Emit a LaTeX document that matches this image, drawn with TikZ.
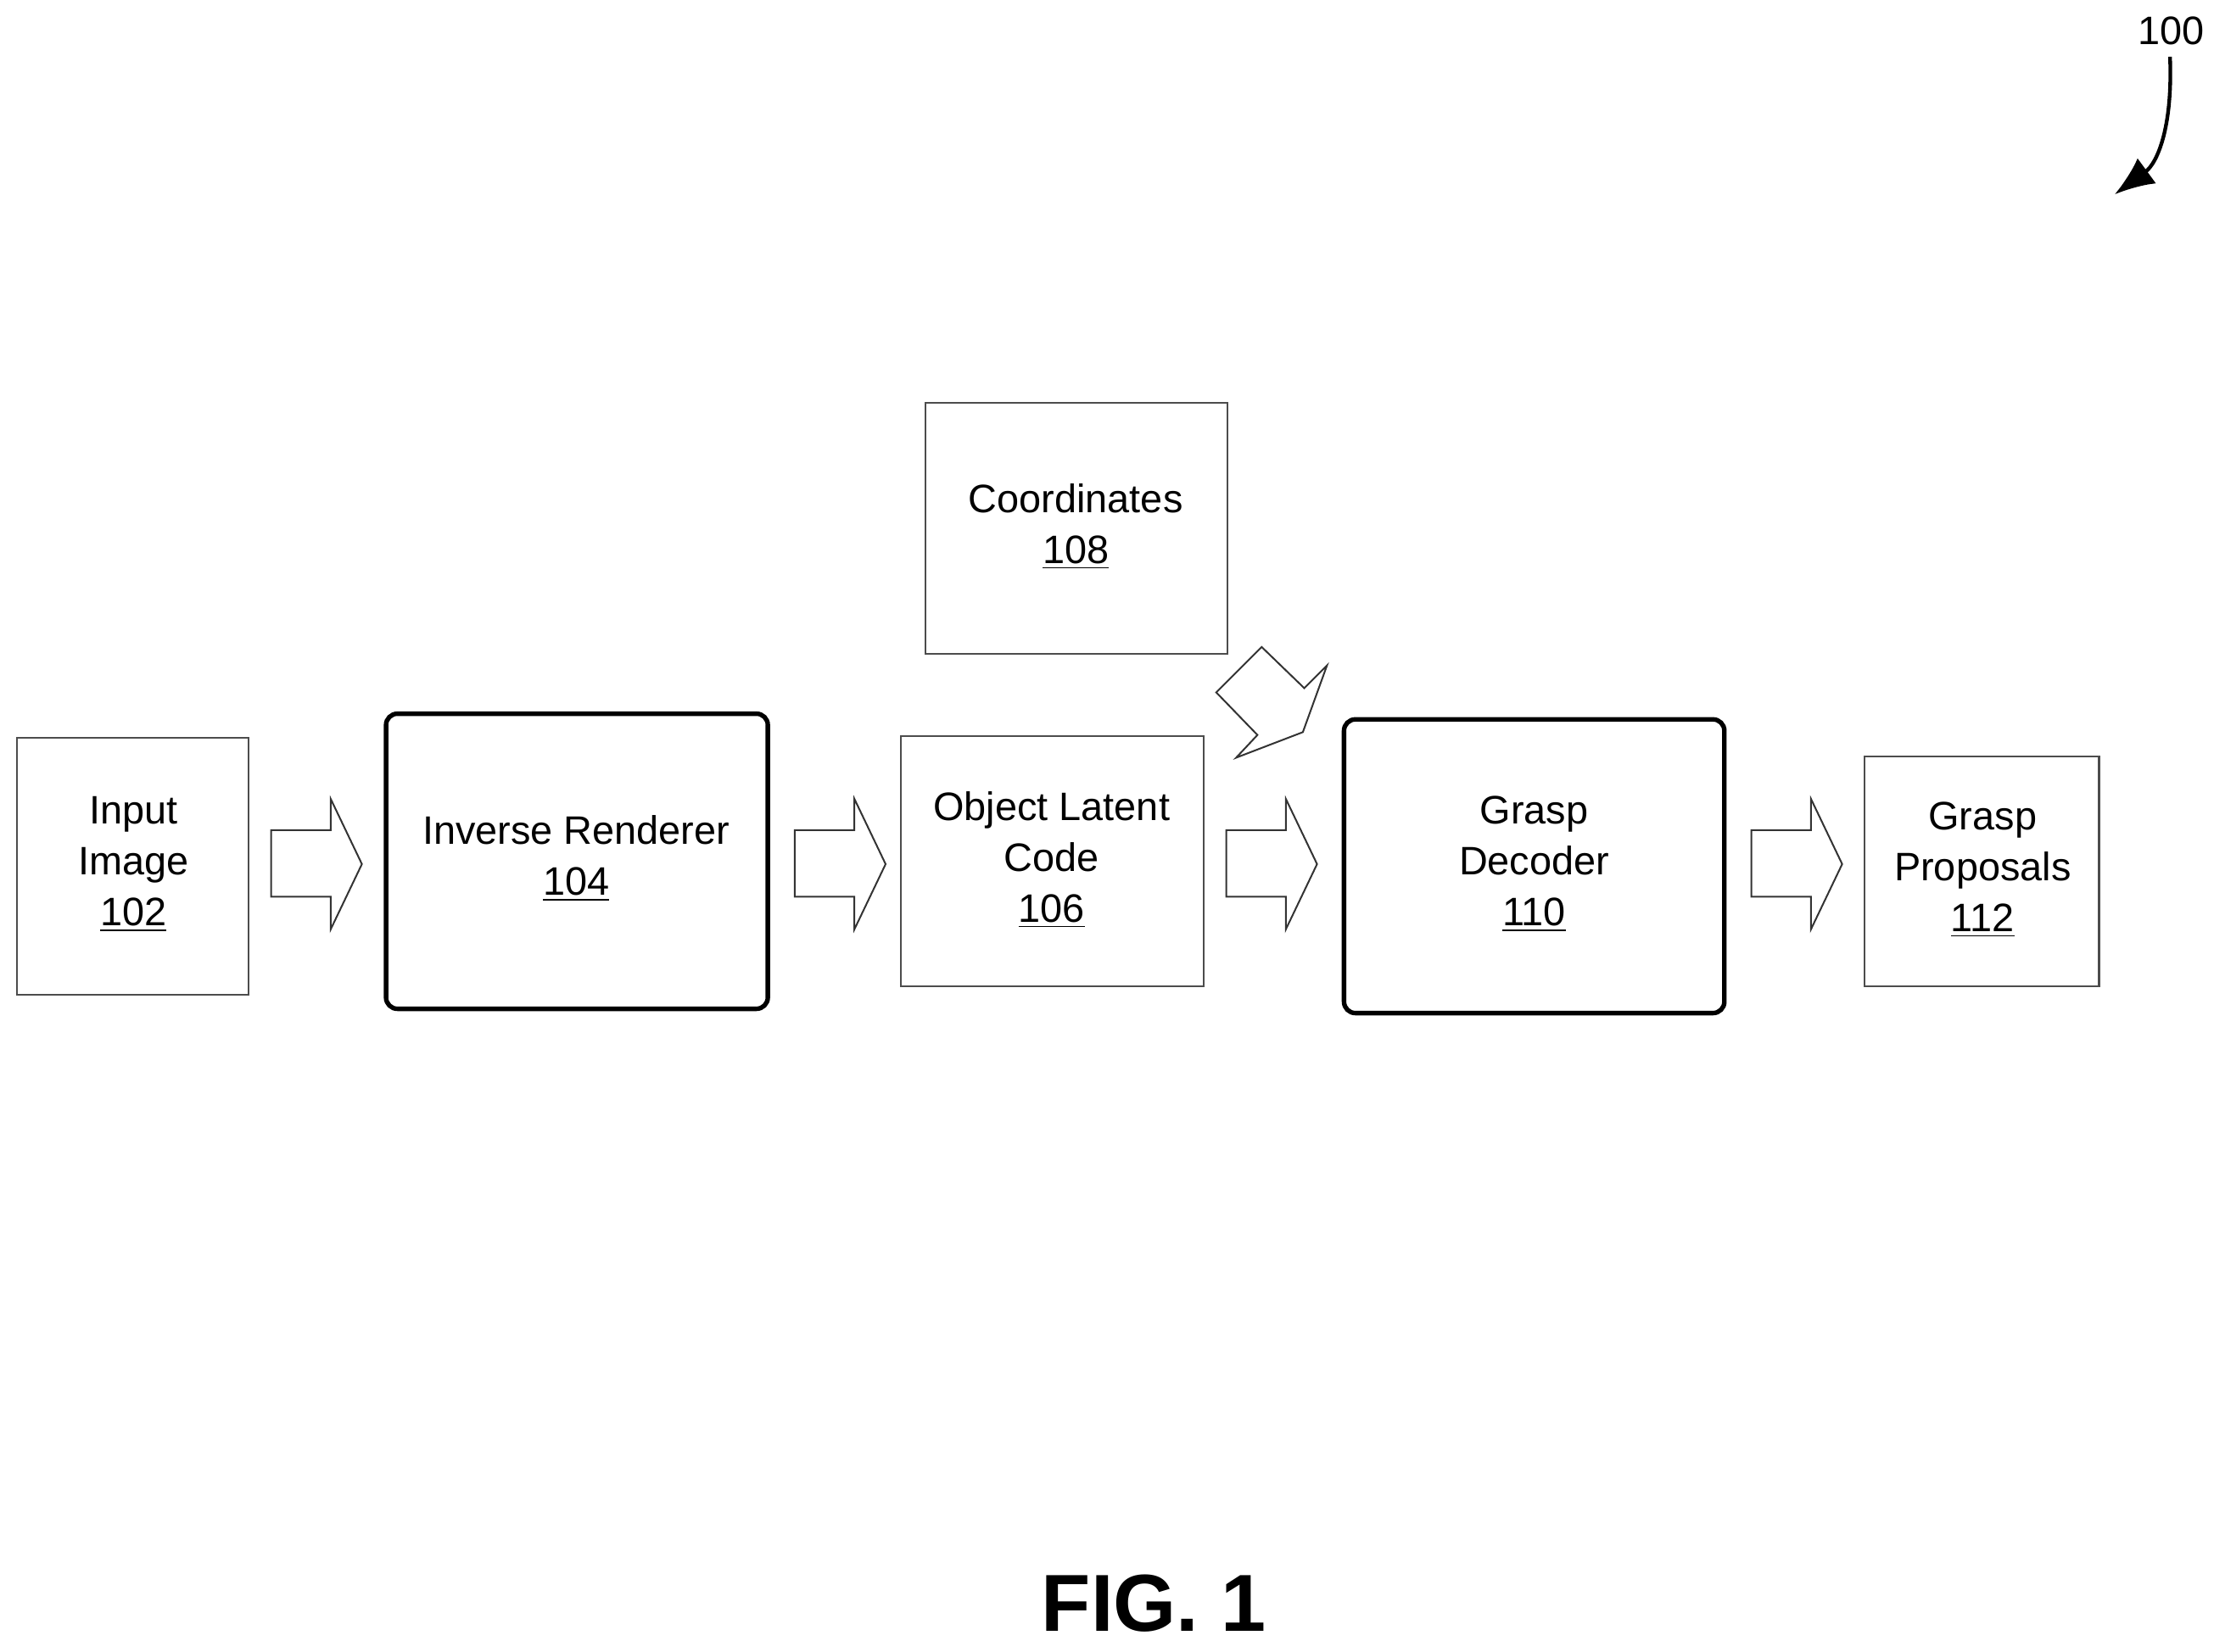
\documentclass[tikz,border=0pt]{standalone}
\usepackage{fontspec}
\setmainfont{Liberation Sans}
\usetikzlibrary{arrows.meta}
\begin{document}
\begin{tikzpicture}[x=0.5pt,y=-0.5pt,
  box/.style={draw,line width=0.6pt,black!70},
  rbox/.style={draw,line width=1.6pt,rounded corners=4pt},
  txt/.style={font=\fontsize{14}{18}\selectfont,align=center},
  blk/.style={draw,line width=0.6pt,black!80}]
\useasboundingbox (0,0) rectangle (1560,1164);
\newcommand{\barrow}[1]{\draw[blk] (#1,585)--(#1+42,585)--(#1+42,563)--(#1+64,609)--(#1+42,655)--(#1+42,632)--(#1,632)--cycle;}
\draw[box] (12,520) rectangle (175,701);
\node[txt] (in) at (94,609) {Input\\Image\\\underline{102}};
\draw[rbox] (272,503) rectangle (541,711);
\node[txt] (ir) at (406,605) {Inverse Renderer\\\underline{104}};
\draw[box] (635,519) rectangle (848,695);
\node[txt] (ol) at (741,606) {Object Latent\\Code\\\underline{106}};
\draw[box] (652,284) rectangle (865,461);
\node[txt] (co) at (758,371) {Coordinates\\\underline{108}};
\draw[rbox] (947,507) rectangle (1215,714);
\node[txt] (gd) at (1081,609) {Grasp\\Decoder\\\underline{110}};
\draw[box] (1314,533) rectangle (1479,695);
\node[txt] (gp) at (1397,613) {Grasp\\Proposals\\\underline{112}};
\barrow{191}\barrow{560}\barrow{864}\barrow{1234}
\draw[blk] (889,456)--(919,485)--(935,469)--(918,516)--(871,534)--(886,518)--(857,488)--cycle;
\node[txt] (lbl) at (1530,22) {100};
\coordinate (t) at (1490,137);
\draw[line width=1.3pt,-{Latex[length=14pt,width=11pt]}] (1529,40) .. controls (1531,90) and (1520,115) .. (t);
\node[font=\fontsize{28.5}{30}\selectfont\bfseries] (fig) at (813,1130) {FIG. 1};
\end{tikzpicture}
\end{document}
